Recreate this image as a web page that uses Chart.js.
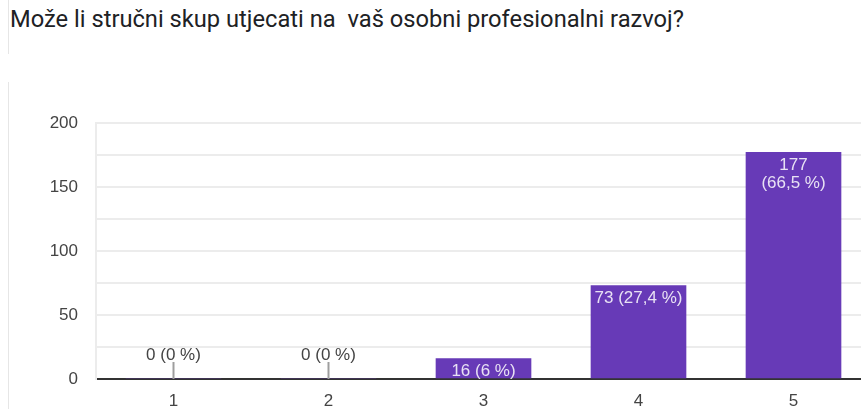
<!DOCTYPE html>
<html>
<head>
<meta charset="utf-8">
<script src="https://cdn.jsdelivr.net/npm/chart.js@4"></script>
<style>
  body { margin: 0; background: #fff; overflow: hidden; }
  #wrap { position: relative; width: 861px; height: 409px; overflow: hidden; }
  #title { position: absolute; left: 10px; top: 5px; font: 23.7px Roboto, sans-serif; color: #202124; white-space: pre; }
  .edge { position: absolute; left: 8px; width: 1px; background: #e6e6e6; }
  canvas { position: absolute; left: 0; top: 0; }
</style>
</head>
<body>
<div id="wrap">
  <div class="edge" style="top:0;height:54px"></div>
  <div class="edge" style="top:82px;height:327px"></div>
  <div id="title">Može li stručni skup utjecati na  vaš osobni profesionalni razvoj?</div>
  <canvas id="chart" width="880" height="409"></canvas>
</div>
<script>
// answers on the 1-5 scale
var categories = ['1', '2', '3', '4', '5'];
var counts = [0, 0, 16, 73, 177];
var percents = ['0', '0', '6', '27,4', '66,5'];
var yTicks = [0, 50, 100, 150, 200];

// labels inside the bars, or a small stub for empty answers
var barLabels = {
    id: 'barLabels',
    afterDatasetsDraw: function(chart) {
        var ctx = chart.ctx;
        var meta = chart.getDatasetMeta(0);
        ctx.save();
        ctx.font = '17px "Liberation Sans", Arial, sans-serif';
        ctx.textAlign = 'center';
        ctx.textBaseline = 'middle';
        meta.data.forEach(function(bar, i) {
            var txt = counts[i] + ' (' + percents[i] + ' %)';
            if (counts[i] === 0) {
                ctx.strokeStyle = '#9e9e9e';
                ctx.lineWidth = 2;
                ctx.beginPath();
                ctx.moveTo(bar.x, bar.base - 17);
                ctx.lineTo(bar.x, bar.base);
                ctx.stroke();
                ctx.fillStyle = '#444';
                ctx.fillText(txt, bar.x, bar.base - 24);
                return;
            }
            ctx.fillStyle = 'rgba(255,255,255,0.85)';
            if (ctx.measureText(txt).width > bar.width) {
                ctx.fillText(String(counts[i]), bar.x, bar.y + 13);
                ctx.fillText('(' + percents[i] + ' %)', bar.x, bar.y + 31);
            } else {
                ctx.fillText(txt, bar.x, bar.y + 13);
            }
        });
        ctx.restore();
    }
};

var tickFont = { family: '"Liberation Sans", Arial, sans-serif', size: 17 };

new Chart(document.getElementById('chart'), {
    type: 'bar',
    data: {
        labels: categories,
        datasets: [{
            data: counts,
            backgroundColor: '#673ab7',
            barThickness: 95
        }]
    },
    options: {
        responsive: false,
        animation: false,
        layout: { padding: { top: 123, right: 9, left: 0, bottom: 0 } },
        plugins: {
            legend: { display: false },
            tooltip: { enabled: false }
        },
        scales: {
            x: {
                grid: { display: false },
                border: { color: '#333', width: 2 },
                ticks: { color: '#444', font: tickFont, padding: 4 },
                afterFit: function(scale) { scale.height = 30; }
            },
            y: {
                min: 0,
                max: 200,
                ticks: {
                    stepSize: 25,
                    color: '#444',
                    font: tickFont,
                    padding: 18,
                    callback: function(v) { return yTicks.indexOf(v) >= 0 ? v : ''; }
                },
                grid: { color: '#ececec', lineWidth: 2, drawTicks: false },
                border: { color: '#ececec', width: 2 },
                afterFit: function(scale) { scale.width = 96; }
            }
        }
    },
    plugins: [barLabels]
});
</script>
</body>
</html>
